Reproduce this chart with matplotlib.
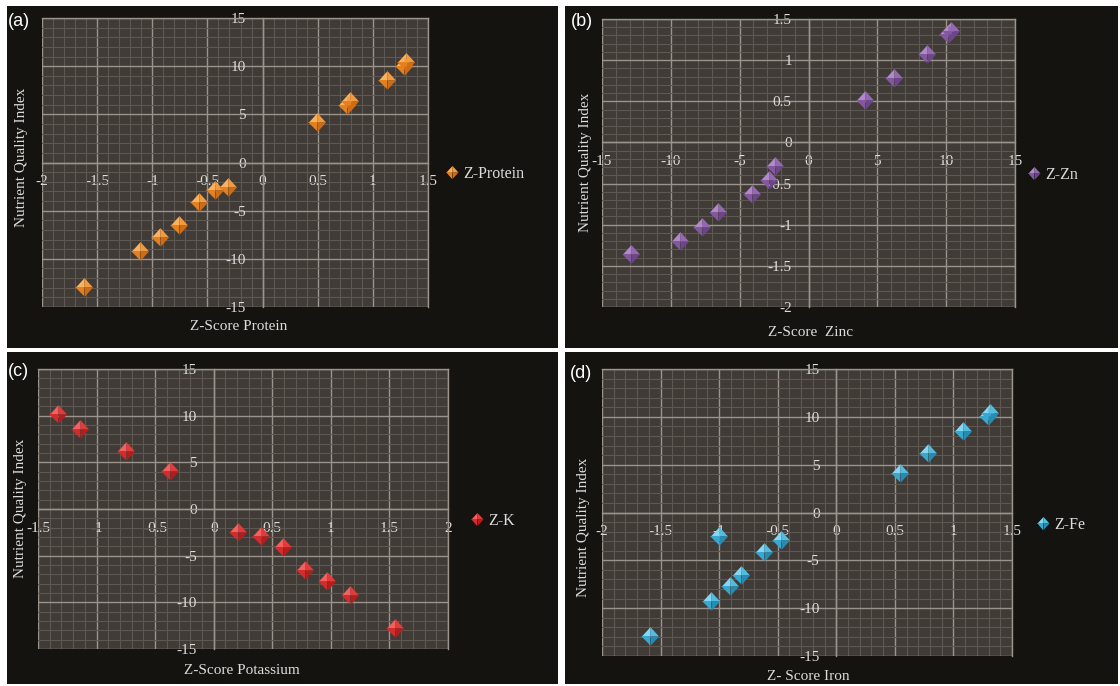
import numpy as np
import matplotlib
matplotlib.use("Agg")
import matplotlib.pyplot as plt
from matplotlib.ticker import MultipleLocator

# ----------------------------
# Data
# ----------------------------
# (a) Z-score protein vs nutrient quality index
protein_z = [-1.62, -1.11, -0.93, -0.76, -0.58, -0.43, -0.31, 0.49, 0.77, 0.79, 1.13, 1.285, 1.305]
protein_nqi = [-12.9, -9.2, -7.7, -6.5, -4.1, -2.9, -2.5, 4.2, 6.0, 6.4, 8.6, 10.0, 10.4]

# (b) nutrient quality index vs Z-score zinc (axes swapped in the original)
zinc_nqi = [-12.9, -9.3, -7.75, -6.55, -4.1, -2.9, -2.45, 4.1, 6.2, 8.6, 10.1, 10.35]
zinc_z = [-1.36, -1.20, -1.03, -0.84, -0.63, -0.46, -0.29, 0.52, 0.78, 1.07, 1.32, 1.35]

# (c) Z-score potassium vs nutrient quality index
potassium_z = [-1.33, -1.14, -0.75, -0.37, 0.21, 0.40, 0.59, 0.78, 0.97, 1.16, 1.55]
potassium_nqi = [10.2, 8.6, 6.2, 4.1, -2.5, -2.9, -4.05, -6.5, -7.7, -9.2, -12.8]

# (d) Z-score iron vs nutrient quality index
iron_z = [-1.59, -1.07, -0.91, -0.81, -0.62, -0.47, -1.0, 0.54, 0.78, 1.08, 1.295, 1.315]
iron_nqi = [-12.9, -9.2, -7.7, -6.5, -4.1, -2.9, -2.5, 4.1, 6.2, 8.5, 10.1, 10.35]

W, H = 1120, 686


def box(x0, y0, x1, y1):
    # pixel box (top-left origin) -> figure fraction rect
    return [x0 / W, 1 - y1 / H, (x1 - x0) / W, (y1 - y0) / H]


# diamond facets: top-left, top-right, bottom-left, bottom-right
FACETS = [
    [(-1, 0), (0, 1.1), (0, 0)],
    [(0, 0), (0, 1.1), (1, 0)],
    [(-1, 0), (0, 0), (0, -1.1)],
    [(0, 0), (1, 0), (0, -1.1)],
]

BG = "#14130f"
PLOT_BG = "#403b36"
MAJOR = "#9a948d"
MINOR = "#5d5852"
TXT = "#dcdcdc"
SERIF = "Liberation Serif"


def draw_panel(rect, x, y, xlim, ylim, xmaj, xmin, ymaj, ymin, shades, name, leg_xy):
    ax = fig.add_axes(box(*rect))
    ax.set_facecolor(PLOT_BG)
    ax.set_xlim(*xlim)
    ax.set_ylim(*ylim)
    ax.xaxis.set_major_locator(MultipleLocator(xmaj))
    ax.xaxis.set_minor_locator(MultipleLocator(xmin))
    ax.yaxis.set_major_locator(MultipleLocator(ymaj))
    ax.yaxis.set_minor_locator(MultipleLocator(ymin))
    ax.grid(which="minor", color=MINOR, lw=0.8)
    ax.grid(which="major", color=MAJOR, lw=1.0)
    ax.set_axisbelow(True)

    ax.spines["left"].set_position("zero")
    ax.spines["bottom"].set_position("zero")
    for s in ax.spines.values():
        s.set_color(MAJOR)
        s.set_linewidth(1.0)
    ax.tick_params(which="both", length=0, colors=TXT)
    ax.tick_params(axis="x", pad=9)
    ax.tick_params(axis="y", pad=12)
    ax.xaxis.set_major_formatter(plt.FuncFormatter(lambda v, p: f"{v:g}"))
    ax.yaxis.set_major_formatter(plt.FuncFormatter(lambda v, p: f"{v:g}"))
    for lab in ax.get_xticklabels() + ax.get_yticklabels():
        lab.set_fontfamily(SERIF)
        lab.set_fontsize(11)

    handles = []
    for verts, col in zip(FACETS, shades):
        (h,) = ax.plot(x, y, linestyle="none", marker=verts, markersize=13.5,
                       markerfacecolor=col, markeredgewidth=0, zorder=3,
                       clip_on=False)
        handles.append(h)

    fig.legend([tuple(handles)], [name], loc="center left",
               bbox_to_anchor=(leg_xy[0] / W, 1 - leg_xy[1] / H),
               frameon=False, handlelength=0.8, handletextpad=0.25,
               borderpad=0, borderaxespad=0, markerscale=0.7,
               prop={"family": SERIF, "size": 11.5}, labelcolor=TXT)
    return ax


fig = plt.figure(figsize=(W / 100, H / 100), dpi=100, facecolor="white")

# black panel backgrounds
for r in [(7, 6, 558, 348), (565, 6, 1118, 348), (7, 352, 558, 684), (565, 352, 1118, 684)]:
    bg = fig.add_axes(box(*r))
    bg.set_facecolor(BG)
    bg.set_xticks([])
    bg.set_yticks([])
    for s in bg.spines.values():
        s.set_visible(False)

orange = ["#fbb15e", "#f39a3c", "#e5801f", "#d06c14"]
purple = ["#b089c9", "#9468b2", "#84589f", "#6c4688"]
red = ["#f26060", "#e43a3a", "#d42c2c", "#b21e1e"]
blue = ["#86d6f0", "#52bde2", "#38a8d0", "#278cb2"]

draw_panel((42, 18, 428, 307), protein_z, protein_nqi, (-2, 1.5), (-15, 15),
           0.5, 0.1, 5, 1, orange, "Z-Protein", (446, 174))
draw_panel((602, 19, 1015, 307), zinc_nqi, zinc_z, (-15, 15), (-2, 1.5),
           5, 1, 0.5, 0.1, purple, "Z-Zn", (1028, 175))
draw_panel((38, 369, 448, 649), potassium_z, potassium_nqi, (-1.5, 2), (-15, 15),
           0.5, 0.1, 5, 1, red, "Z-K", (471, 521))
draw_panel((602, 369, 1012, 656), iron_z, iron_nqi, (-2, 1.5), (-15, 15),
           0.5, 0.1, 5, 1, blue, "Z-Fe", (1037, 525))

# panel letters
for lab, px, py in [("(a)", 8, 21), ("(b)", 571, 21), ("(c)", 8, 372), ("(d)", 570, 373)]:
    fig.text(px / W, 1 - py / H, lab, color="white", fontsize=13,
             family="Liberation Sans", ha="left", va="center")

# axis titles
xlabels = [("Z-Score Protein", 239, 327), ("Z-Score  Zinc", 811, 333),
           ("Z-Score Potassium", 242, 671), ("Z- Score Iron", 808, 677)]
for t, px, py in xlabels:
    fig.text(px / W, 1 - py / H, t, color=TXT, fontsize=11, family=SERIF,
             ha="center", va="center")

for px, py in [(22, 157), (585, 162), (21, 508), (583, 527)]:
    fig.text(px / W, 1 - py / H, "Nutrient Quality Index", color=TXT,
             fontsize=11, family=SERIF, rotation=90, ha="center", va="center")

fig.savefig("out.png", dpi=100, facecolor="white")
